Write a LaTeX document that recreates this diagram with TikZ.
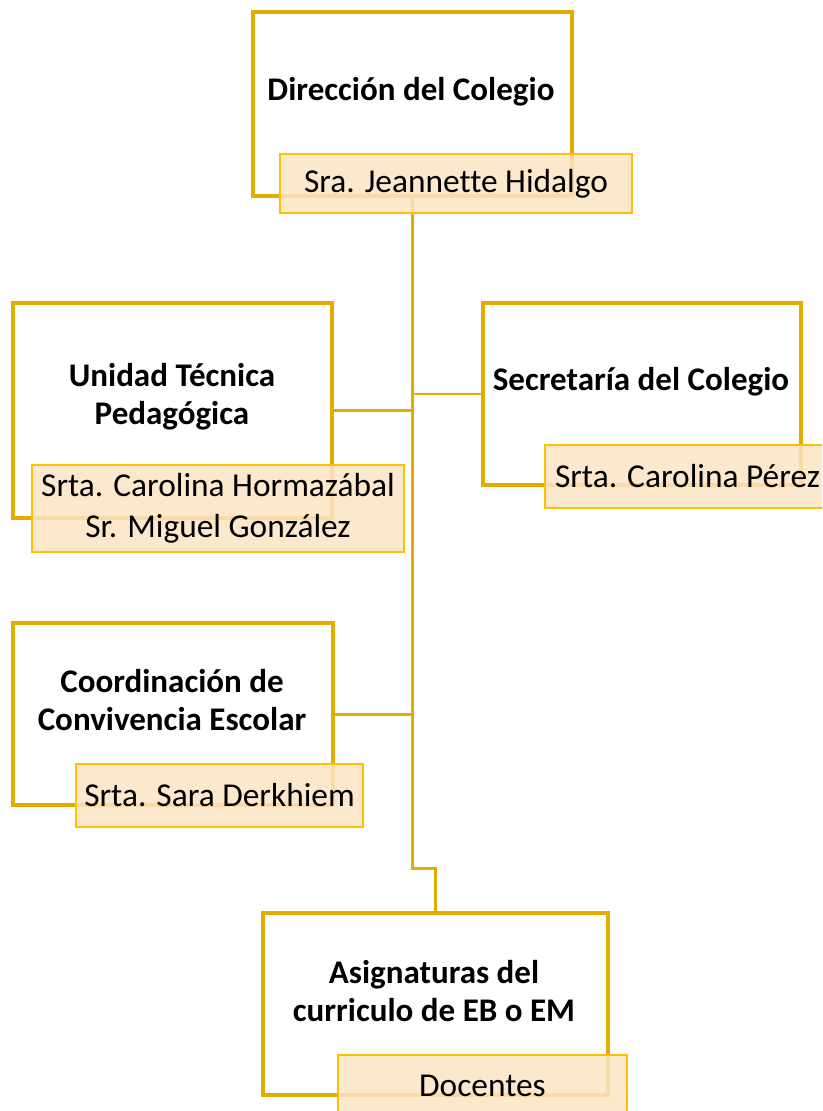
\documentclass[tikz,border=0pt]{standalone}
\usepackage{fontspec}
\setmainfont{Carlito}[Ligatures=NoCommon]
\usepackage{tikz}

\definecolor{marco}{RGB}{229,172,0}
\definecolor{borde}{RGB}{255,192,0}
\definecolor{relleno}{RGB}{252,228,196}

\begin{document}
\begin{tikzpicture}[x=0.02cm, y=-0.02cm,
  cargo/.style={draw=marco, line width=2.3pt, fill=white, inner sep=0pt},
  nombre/.style={draw=borde, line width=1.4pt, fill=relleno, fill opacity=0.85, text opacity=1,
    inner sep=0pt, align=center, font=\fontsize{19}{23.5}\selectfont},
  titulo/.style={align=center, font=\fontsize{18.8}{21.8}\selectfont\bfseries},
  linea/.style={draw=marco, line width=1.7pt}]
\clip (0,0) rectangle (822,1111);
\fill[white] (0,0) rectangle (822,1111);
\coordinate (bend) at (412.5,868);

% cuadros
\node[cargo, minimum width=6.38cm, minimum height=3.68cm] (dir) at (412.5,104) {};
\node[cargo, minimum width=6.38cm, minimum height=4.30cm] (utp) at (172.5,410.5) {};
\node[cargo, minimum width=6.36cm, minimum height=3.64cm] (sec) at (642,394) {};
\node[cargo, minimum width=6.40cm, minimum height=3.64cm] (coord) at (173,714) {};
\node[cargo, minimum width=6.90cm, minimum height=3.64cm] (asig) at (435.5,1004) {};

% conectores
\draw[linea] (dir.south) -- (bend) -| (asig.north);
\draw[linea] (utp.east) -- (utp.east -| dir.south);
\draw[linea] (sec.west) -- (sec.west -| dir.south);
\draw[linea] (coord.east) -- (coord.east -| dir.south);

\node[titulo] (dirT) at (411,92) {Dirección del Colegio};
\node[titulo] (utpT) at (172,397) {Unidad Técnica\\Pedagógica};
\node[titulo] (secT) at (641,382) {Secretaría del Colegio};
\node[titulo] (coordT) at (172,700) {Coordinación de\\Convivencia Escolar};
\node[titulo] (asigT) at (434,991) {Asignaturas del\\curriculo de EB o EM};

% nombres
\node[nombre, minimum width=7.04cm, minimum height=1.18cm] (dirL) at (456,183.5) {Sra. Jeannette Hidalgo};
\node[nombre, minimum width=7.44cm, minimum height=1.74cm] (utpL) at (218,508.5) {Srta. Carolina Hormazábal\\Sr. Miguel González};
\node[nombre, minimum width=5.70cm, minimum height=1.26cm] (secL) at (687.5,476.5) {Srta. Carolina Pérez};
\node[nombre, minimum width=5.74cm, minimum height=1.26cm] (coordL) at (219.5,795.5) {Srta. Sara Derkhiem};
\node[nombre, minimum width=5.78cm, minimum height=1.24cm] (asigL) at (482.5,1086) {Docentes};
\end{tikzpicture}
\end{document}
